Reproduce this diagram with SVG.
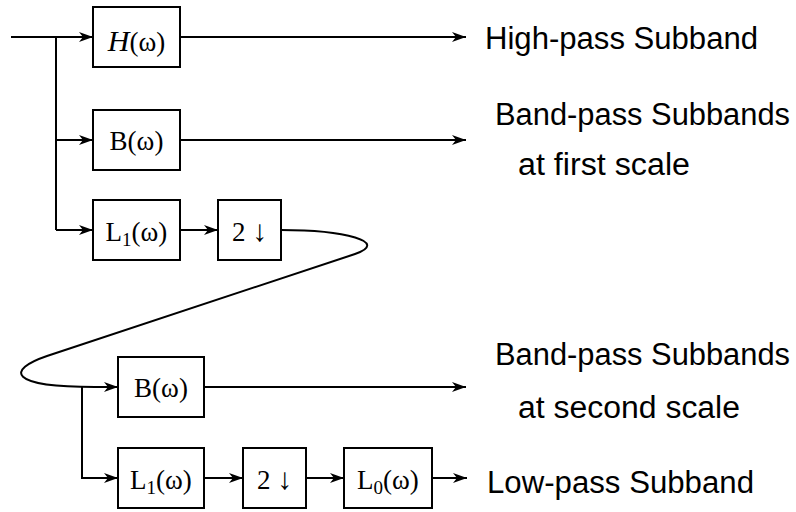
<svg xmlns="http://www.w3.org/2000/svg" width="796" height="512" viewBox="0 0 796 512">
<style>
.box{fill:#fff;stroke:#000;stroke-width:2}
.ln{fill:none;stroke:#000;stroke-width:2}
.bt{font-family:"Liberation Serif","Times New Roman",serif;font-size:27px;fill:#000;text-anchor:middle}
.lb{font-family:"Liberation Sans",Arial,sans-serif;font-size:31px;fill:#000}
</style>
<defs>
<marker id="ar" markerUnits="userSpaceOnUse" markerWidth="16" markerHeight="10" refX="14" refY="5" orient="auto">
<path d="M0,0 L14,5 L0,10 L4,5 z" fill="#000"/>
</marker>
</defs>
<rect width="796" height="512" fill="#fff"/>
<g id="connectors">
<path class="ln" d="M11,37 L93,37" marker-end="url(#ar)"/>
<path class="ln" d="M56,37 L56,230"/>
<path class="ln" d="M56,140 L93,140" marker-end="url(#ar)"/>
<path class="ln" d="M56,230 L93,230" marker-end="url(#ar)"/>
<path class="ln" d="M180,37 L466,37" marker-end="url(#ar)"/>
<path class="ln" d="M180,140 L466,140" marker-end="url(#ar)"/>
<path class="ln" d="M180,230 L218,230" marker-end="url(#ar)"/>
<path class="ln" d="M281,230 C345,230 390,242 355,254 L47,356 C6,370 8,387 95,387 L118,387" marker-end="url(#ar)"/>
<path class="ln" d="M82,387 L82,478 L118,478" marker-end="url(#ar)"/>
<path class="ln" d="M204,387 L466,387" marker-end="url(#ar)"/>
<path class="ln" d="M204,478 L243,478" marker-end="url(#ar)"/>
<path class="ln" d="M306,478 L344,478" marker-end="url(#ar)"/>
<path class="ln" d="M432,478 L467,478" marker-end="url(#ar)"/>
</g>
<g id="H">
<rect class="box" x="93" y="7" width="87" height="60"/>
<text class="bt" x="136.5" y="51"><tspan font-style="italic" font-size="30">H</tspan>(ω)</text>
</g>
<g id="B1">
<rect class="box" x="93" y="110" width="87" height="60"/>
<text class="bt" x="136.5" y="150">B(ω)</text>
</g>
<g id="L1a">
<rect class="box" x="93" y="200" width="87" height="60"/>
<text class="bt" x="136.5" y="241">L<tspan font-size="19" dy="5">1</tspan><tspan dy="-5">(ω)</tspan></text>
</g>
<g id="D1">
<rect class="box" x="218" y="200" width="63" height="60"/>
<text class="bt" x="249.5" y="241">2 <tspan font-size="30">↓</tspan></text>
</g>
<g id="B2">
<rect class="box" x="118" y="357" width="86" height="60"/>
<text class="bt" x="161" y="397">B(ω)</text>
</g>
<g id="L1b">
<rect class="box" x="118" y="448" width="86" height="60"/>
<text class="bt" x="161" y="489">L<tspan font-size="19" dy="5">1</tspan><tspan dy="-5">(ω)</tspan></text>
</g>
<g id="D2">
<rect class="box" x="243" y="448" width="63" height="60"/>
<text class="bt" x="274.5" y="489">2 <tspan font-size="30">↓</tspan></text>
</g>
<g id="L0">
<rect class="box" x="344" y="448" width="88" height="60"/>
<text class="bt" x="388" y="489">L<tspan font-size="19" dy="5">0</tspan><tspan dy="-5">(ω)</tspan></text>
</g>
<g id="labels">
<text class="lb" x="485" y="49" textLength="273" lengthAdjust="spacingAndGlyphs">High-pass Subband</text>
<text class="lb" x="495" y="125" textLength="295" lengthAdjust="spacingAndGlyphs">Band-pass Subbands</text>
<text class="lb" x="518" y="175" textLength="172" lengthAdjust="spacingAndGlyphs">at first scale</text>
<text class="lb" x="495" y="365" textLength="295" lengthAdjust="spacingAndGlyphs">Band-pass Subbands</text>
<text class="lb" x="518" y="418" textLength="222" lengthAdjust="spacingAndGlyphs">at  second scale</text>
<text class="lb" x="487" y="493" textLength="267" lengthAdjust="spacingAndGlyphs">Low-pass Subband</text>
</g>
</svg>
